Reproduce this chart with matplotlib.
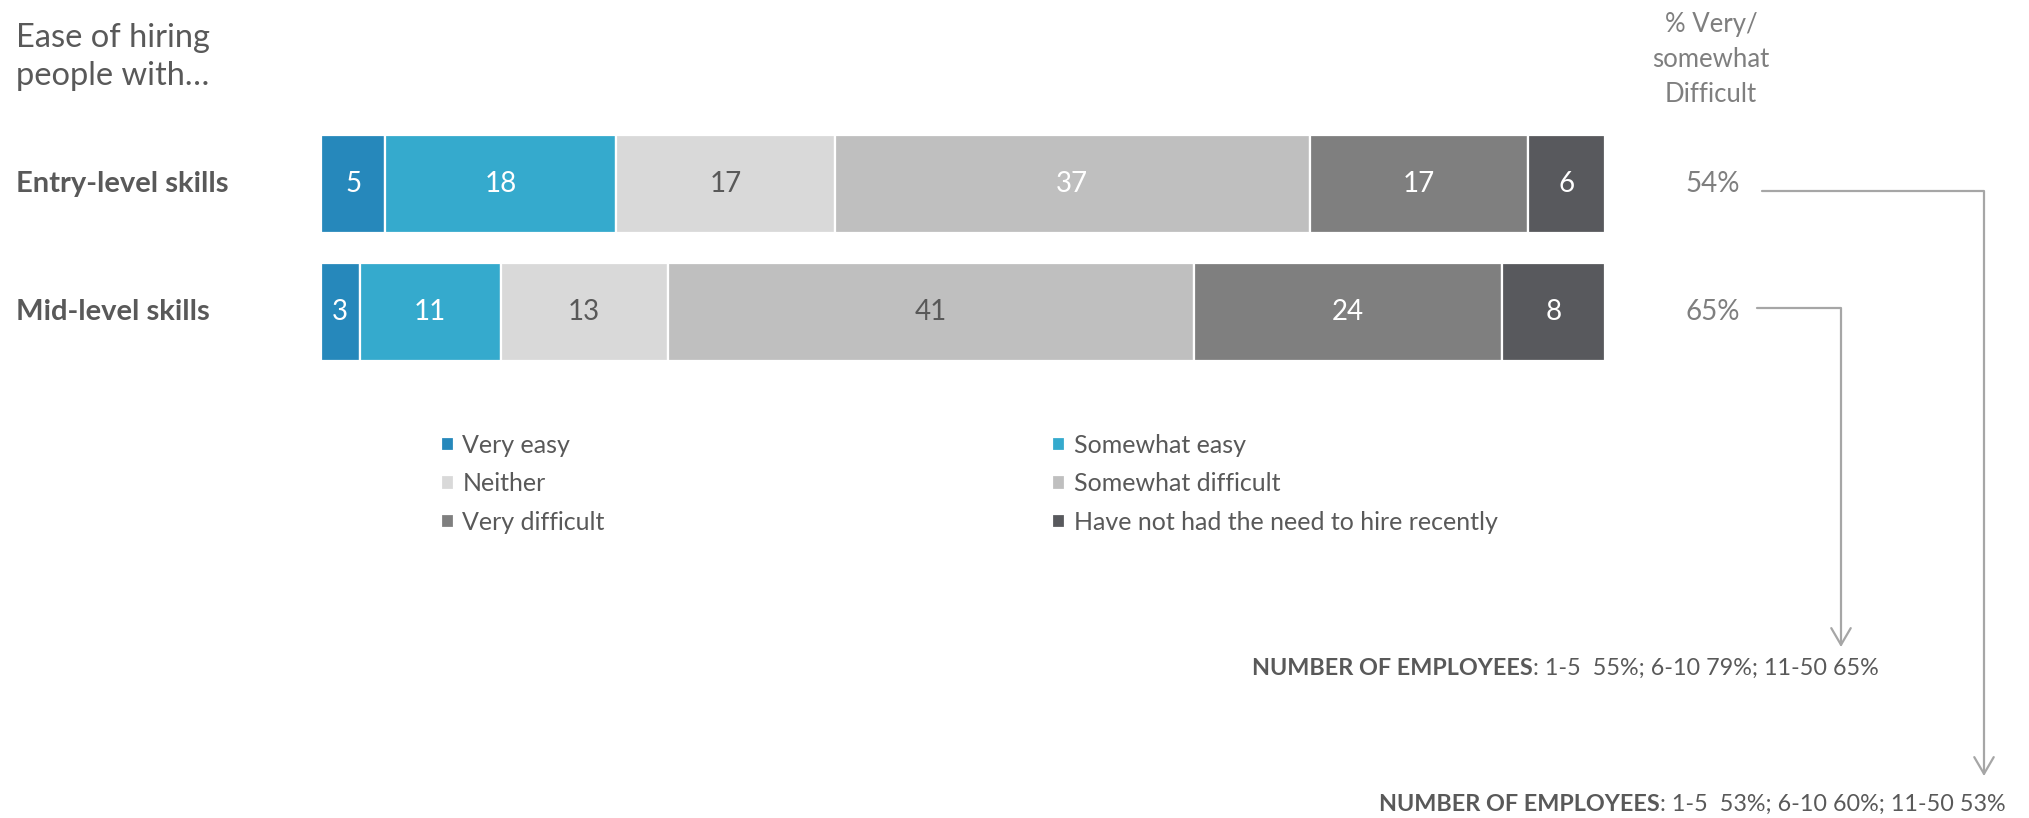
import matplotlib
matplotlib.use("Agg")
import matplotlib.pyplot as plt
import matplotlib.transforms as mtransforms
import numpy as np

plt.rcParams['font.family'] = ['Lato', 'DejaVu Sans']

# ---- data ----
rows = ["Entry-level skills", "Mid-level skills"]
categories = ["Very easy", "Somewhat easy", "Neither", "Somewhat difficult",
              "Very difficult", "Have not had the need to hire recently"]
entry_level = [5, 18, 17, 37, 17, 6]
mid_level = [3, 11, 13, 41, 24, 8]
pct_difficult = ["54%", "65%"]
employees_entry = "1-5  53%; 6-10 60%; 11-50 53%"
employees_mid = "1-5  55%; 6-10 79%; 11-50 65%"

colors = ["#2688BB", "#35AACD", "#D9D9D9", "#BFBFBF", "#7F7F7F", "#58595D"]
label_colors = [["white", "white", "#595959", "white", "white", "white"],
                ["white", "white", "#595959", "#595959", "white", "white"]]
TEXT = "#595959"
LIGHT = "#7F7F7F"
ARROW = "#A6A6A6"

W, H = 2029, 818
fig = plt.figure(figsize=(W / 100, H / 100), dpi=100)
fig.patch.set_facecolor("white")


def fx(x):
    return x / W


def fy(y):
    return 1 - y / H


# bar axes: spans from px 321..1605 horizontally, 135..361 vertically
ax = fig.add_axes([fx(321), fy(361), fx(1605) - fx(321), fy(135) - fy(361)])
bar_h = 0.77
values = np.array([entry_level, mid_level], dtype=float)
ypos = np.arange(len(rows))
left = np.zeros(len(rows))
handles = []
for j, cat in enumerate(categories):
    bars = ax.barh(ypos, values[:, j], left=left, height=bar_h, color=colors[j],
                   edgecolor="white", linewidth=1.6, label=cat)
    handles.append(bars)
    for i in range(len(rows)):
        ax.text(left[i] + values[i, j] / 2, ypos[i], f"{values[i, j]:.0f}",
                ha="center", va="center", fontsize=20,
                color=label_colors[i][j])
    left += values[:, j]
ax.set_xlim(0, 100)
ax.set_ylim(1 + bar_h / 2, -bar_h / 2)
ax.axis("off")

# row labels and percentages, positioned with figure x and data y
blend = mtransforms.blended_transform_factory(fig.transFigure, ax.transData)
for i, name in enumerate(rows):
    ax.text(fx(16), ypos[i], name, transform=blend, ha="left", va="center",
            fontsize=21, fontweight="bold", color=TEXT)
    ax.text(fx(1713), ypos[i], pct_difficult[i], transform=blend, ha="center",
            va="center", fontsize=20, color=LIGHT)

# title
fig.text(fx(16), fy(47), "Ease of hiring", ha="left", va="baseline",
         fontsize=23.5, color=TEXT)
fig.text(fx(16), fy(85), "people with…", ha="left", va="baseline",
         fontsize=23.5, color=TEXT)

# right column header
for txt, base in [("% Very/", 32), ("somewhat", 67), ("Difficult", 102)]:
    fig.text(fx(1711), fy(base), txt, ha="center", va="baseline",
             fontsize=18.5, color=LIGHT)

# legend in two columns
order_cols = [[0, 2, 4], [1, 3, 5]]
for col, xpx in zip(order_cols, [441, 1052]):
    fig.legend([handles[k] for k in col], [categories[k] for k in col],
               loc="upper left", bbox_to_anchor=(fx(xpx), fy(434)),
               bbox_transform=fig.transFigure, frameon=False, fontsize=18,
               handlelength=0.5, handleheight=0.5, handletextpad=0.36,
               labelspacing=0.62, borderpad=0, borderaxespad=0,
               labelcolor=TEXT)

# connector arrows from the percentages to the breakdown notes
arrow_kw = dict(arrowstyle="->,head_length=0.6,head_width=0.35",
                connectionstyle="angle,angleA=0,angleB=90,rad=0",
                color=ARROW, lw=1.6, shrinkA=0, shrinkB=0, mutation_scale=20)
fig.add_artist(plt.Annotation("", xy=(1984, H - 776), xytext=(1762, H - 191),
                              xycoords="figure pixels", textcoords="figure pixels",
                              arrowprops=arrow_kw))
fig.add_artist(plt.Annotation("", xy=(1841, H - 647), xytext=(1757, H - 308),
                              xycoords="figure pixels", textcoords="figure pixels",
                              arrowprops=arrow_kw))


# breakdown notes: bold lead-in followed by regular text
def note(xpx, base, rest):
    lead = fig.text(fx(xpx), fy(base), "NUMBER OF EMPLOYEES", ha="left",
                    va="baseline", fontsize=16.8, fontweight="bold", color=TEXT)
    fig.add_artist(plt.Annotation(": " + rest, xy=(1, 0), xycoords=lead,
                                  ha="left", va="bottom", fontsize=16.8,
                                  color=TEXT))


note(1252, 675, employees_mid)
note(1379, 811, employees_entry)

fig.savefig("out.png", dpi=100, facecolor="white")
